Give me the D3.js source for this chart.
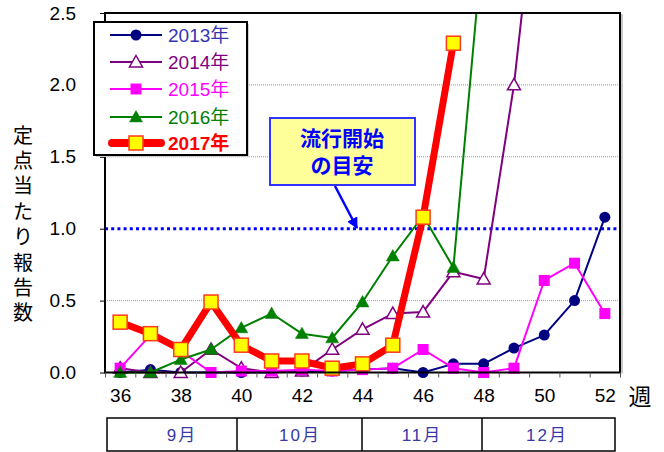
<!DOCTYPE html>
<html><head><meta charset="utf-8">
<script src="https://cdn.jsdelivr.net/npm/d3@7"></script>
<style>
body{margin:0;background:#fff;}
svg{display:block;}
text{font-family:"Liberation Sans",Arial,"Noto Sans CJK JP",sans-serif;}
</style></head>
<body><svg id="c" width="664" height="452"></svg>
<script>
const weeks = d3.range(36, 53);
const s2013 = [0, 0.02, 0, 0, 0, 0, 0.01, 0.01, 0.02, 0.03, 0, 0.06, 0.06, 0.17, 0.26, 0.50, 1.08];
const s2014 = [0.03, 0, 0, 0.16, 0.03, 0, 0.01, 0.16, 0.30, 0.41, 0.42, 0.70, 0.65, 2.0, 3.9, null, null];
const s2015 = [0.03, 0.26, 0.15, 0.0, 0.01, 0.01, 0.02, 0.01, 0.02, 0.03, 0.16, 0.03, 0.0, 0.03, 0.64, 0.76, 0.41];
const s2016 = [0, 0, 0.09, 0.16, 0.31, 0.41, 0.27, 0.24, 0.49, 0.81, 1.09, 0.73, 3.06, null, null, null, null];
const s2017 = [0.35, 0.27, 0.16, 0.49, 0.19, 0.08, 0.08, 0.03, 0.06, 0.19, 1.08, 2.29, null, null, null, null, null];
const seriesNames = ["2013年", "2014年", "2015年", "2016年", "2017年"];
const yTicks = [0, 0.5, 1.0, 1.5, 2.0, 2.5];
const xTickLabels = [36, 38, 40, 42, 44, 46, 48, 50, 52];
const months = ["9月", "10月", "11月", "12月"];
const threshold = 1.0;
const yTitle = "定点当たり報告数";
const calloutLines = ["流行開始", "の目安"];

const svg = d3.select("#c");
const L = 105, R = 620, T = 13, B = 372.5;
const x = d3.scaleLinear().domain([35.5, 52.5]).range([L, R]);
const y = d3.scaleLinear().domain([0, 2.5]).range([B, T]);

// grid
svg.append("g").selectAll("line").data(yTicks.filter(v => v > 0 && v < 2.5 && v !== threshold)).join("line")
  .attr("x1", L).attr("x2", R).attr("y1", d => y(d)).attr("y2", d => y(d))
  .attr("stroke", "#9a9a9a").attr("stroke-width", 1).attr("stroke-dasharray", "1,1");

// threshold line
svg.append("line").attr("x1", L).attr("x2", R).attr("y1", y(threshold)).attr("y2", y(threshold))
  .attr("stroke", "#0000ff").attr("stroke-width", 3).attr("stroke-dasharray", "3,3.2");

// clip
svg.append("clipPath").attr("id", "clip").append("rect").attr("x", L).attr("y", T).attr("width", R - L).attr("height", B - T + 10);

const series = [
  {name: seriesNames[0], vals: s2013, color: "#000080", w: 2, marker: "circle", fill: "#000080", tcolor: "#3535b0"},
  {name: seriesNames[1], vals: s2014, color: "#800080", w: 2, marker: "tri", fill: "#ffffff", tcolor: "#800080"},
  {name: seriesNames[2], vals: s2015, color: "#ff00ff", w: 2, marker: "square", fill: "#ff00ff", tcolor: "#ff00ff"},
  {name: seriesNames[3], vals: s2016, color: "#008000", w: 2, marker: "tri", fill: "#008000", tcolor: "#008000"},
  {name: seriesNames[4], vals: s2017, color: "#ff0000", w: 7, marker: "big", fill: "#ffff00", tcolor: "#ff0000"}
];

function drawMarker(g, type, color, fill, cx, cy) {
  if (type === "circle") {
    g.append("circle").attr("cx", cx).attr("cy", cy).attr("r", 5.5).attr("fill", fill);
  } else if (type === "tri") {
    const s = 6.5;
    g.append("path").attr("d", `M${cx},${cy - s}L${cx + s},${cy + s * 0.75}L${cx - s},${cy + s * 0.75}Z`)
      .attr("fill", fill).attr("stroke", color).attr("stroke-width", fill === "#ffffff" ? 1.5 : 0.5);
  } else if (type === "square") {
    g.append("rect").attr("x", cx - 5.5).attr("y", cy - 5.5).attr("width", 11).attr("height", 11).attr("fill", fill);
  } else {
    g.append("rect").attr("x", cx - 7).attr("y", cy - 7).attr("width", 14).attr("height", 14)
      .attr("fill", fill).attr("stroke", "#ff3a1a").attr("stroke-width", 1.5);
  }
}

const plot = svg.append("g").attr("clip-path", "url(#clip)");
series.forEach(s => {
  const pts = weeks.map((w, i) => ({w, v: s.vals[i]})).filter(d => d.v !== null);
  const line = d3.line().x(d => x(d.w)).y(d => y(d.v));
  const g = plot.append("g");
  g.append("path").attr("d", line(pts)).attr("fill", "none").attr("stroke", s.color)
    .attr("stroke-width", s.w).attr("stroke-linejoin", "round");
  pts.filter(d => d.v <= 2.5).forEach(d => drawMarker(g, s.marker, s.color, s.fill, x(d.w), y(d.v)));
});

// frame
svg.append("line").attr("x1", R + 2).attr("x2", R + 2).attr("y1", T + 1).attr("y2", B + 1).attr("stroke", "#c8c8c8").attr("stroke-width", 2);
svg.append("rect").attr("x", L).attr("y", T).attr("width", R - L).attr("height", B - T)
  .attr("fill", "none").attr("stroke", "#000").attr("stroke-width", 2);

// axes
const xAxisTicks = svg.append("g").attr("transform", `translate(0,${B})`)
  .call(d3.axisBottom(x).tickValues(d3.range(35.5, 53, 1)).tickSize(5).tickFormat(""));
xAxisTicks.select(".domain").remove();
xAxisTicks.selectAll("line").attr("stroke", "#555").attr("stroke-width", 1);

const xAxisLabels = svg.append("g").attr("transform", `translate(0,${B})`)
  .call(d3.axisBottom(x).tickValues(xTickLabels).tickSize(0).tickPadding(16).tickFormat(d3.format("d")));
xAxisLabels.select(".domain").remove();
xAxisLabels.selectAll("text").attr("font-size", 19).attr("fill", "#000")
  .attr("font-family", "'Liberation Sans',Arial,sans-serif");

const yAxis = svg.append("g").attr("transform", `translate(${L},0)`)
  .call(d3.axisLeft(y).tickValues(yTicks).tickSize(5).tickPadding(24).tickFormat(d3.format(".1f")));
yAxis.select(".domain").remove();
yAxis.selectAll("line").attr("stroke", "#000");
yAxis.selectAll("text").attr("font-size", 19).attr("fill", "#000")
  .attr("font-family", "'Liberation Sans',Arial,sans-serif");

// 週
svg.append("text").attr("x", 640).attr("y", 397).attr("dy", "0.36em").attr("text-anchor", "middle")
  .attr("font-size", 23).text("週");

// y title
svg.append("g").selectAll("text").data(yTitle.split("")).join("text")
  .attr("x", 23).attr("y", (d, i) => 135 + i * 25.4).attr("dy", "0.38em").attr("text-anchor", "middle")
  .attr("font-size", 20).attr("fill", "#000").text(d => d);

// legend
svg.append("rect").attr("x", 96).attr("y", 24).attr("width", 153).attr("height", 133).attr("fill", "#d0d0d0");
svg.append("rect").attr("x", 94).attr("y", 22).attr("width", 153).attr("height", 133)
  .attr("fill", "#fff").attr("stroke", "#000").attr("stroke-width", 2);
const legRows = [35, 62, 89, 117, 143];
series.forEach((s, i) => {
  const g = svg.append("g");
  const ly = legRows[i];
  g.append("line").attr("x1", i === 4 ? 112 : 110).attr("x2", i === 4 ? 161 : 162).attr("y1", ly).attr("y2", ly)
    .attr("stroke", s.color).attr("stroke-width", i === 4 ? 8 : 2).attr("stroke-linecap", i === 4 ? "round" : "butt");
  drawMarker(g, s.marker, s.color, s.fill, 136, ly);
  g.append("text").attr("x", 168).attr("y", ly).attr("dy", "0.36em").attr("font-size", 19)
    .attr("font-weight", i === 4 ? "bold" : "normal").attr("fill", s.tcolor).text(s.name);
});

// callout
svg.append("defs").append("marker").attr("id", "ah").attr("viewBox", "0 0 10 10")
  .attr("refX", 9).attr("refY", 5).attr("markerWidth", 4.5).attr("markerHeight", 4.5).attr("orient", "auto")
  .append("path").attr("d", "M0,0L10,5L0,10Z").attr("fill", "#0000ff");
svg.append("line").attr("x1", 335).attr("y1", 186).attr("x2", 357).attr("y2", 228)
  .attr("stroke", "#0000ff").attr("stroke-width", 2.5).attr("marker-end", "url(#ah)");
svg.append("rect").attr("x", 270).attr("y", 118).attr("width", 145).attr("height", 67)
  .attr("fill", "#ffff99").attr("stroke", "#3333ff").attr("stroke-width", 2);
svg.append("g").selectAll("text").data(calloutLines).join("text")
  .attr("x", 342).attr("y", (d, i) => 138 + i * 27).attr("dy", "0.38em").attr("text-anchor", "middle")
  .attr("font-size", 21).attr("font-weight", "bold").attr("fill", "#0000ff").text(d => d);

// month table
const mb = [107, 237, 362, 482, 615];
svg.append("rect").attr("x", 107).attr("y", 418).attr("width", 508).attr("height", 33)
  .attr("fill", "none").attr("stroke", "#000").attr("stroke-width", 1.5);
svg.append("g").selectAll("line").data(mb.slice(1, 4)).join("line")
  .attr("x1", d => d).attr("x2", d => d).attr("y1", 418).attr("y2", 451).attr("stroke", "#000").attr("stroke-width", 1.5);
const mCenters = [182, 300, 422, 547];
svg.append("g").selectAll("text").data(months).join("text")
  .attr("x", (d, i) => mCenters[i]).attr("y", 435).attr("dy", "0.36em").attr("text-anchor", "middle")
  .attr("font-size", 17).attr("letter-spacing", 2).attr("fill", "#3838a8").text(d => d);
</script></body></html>
